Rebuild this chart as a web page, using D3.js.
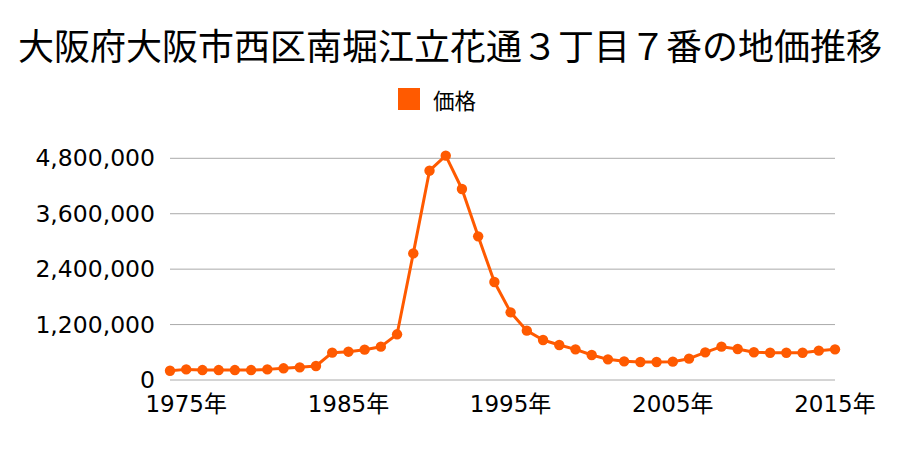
<!DOCTYPE html>
<html><head><meta charset="utf-8">
<script src="https://cdn.jsdelivr.net/npm/d3@7"></script>
<style>
body{margin:0;background:#fff;}
text{font-family:"DejaVu Sans","Noto Sans CJK JP",sans-serif;}
.cjk{font-family:"Noto Sans CJK JP",sans-serif;}
</style></head>
<body><svg id="c" width="900" height="450"></svg>
<script>
const title = "大阪府大阪市西区南堀江立花通３丁目７番の地価推移";
const seriesName = "価格";
const years = d3.range(1974, 2016);
const prices = [200000,230000,215000,215000,215000,215000,230000,253000,274000,303000,
  592000,613000,657000,722000,989000,2742000,4532000,4857000,4135000,3110000,
  2122000,1465000,1068000,866000,758000,664000,541000,447000,404000,390000,
  390000,397000,462000,599000,722000,671000,600000,590000,590000,590000,
  635000,664000];
const yTicks = [0,1200000,2400000,3600000,4800000];
const xTicks = [1975,1985,1995,2005,2015];
const color = "#ff5a00";

const svg = d3.select("#c");
const x = d3.scaleLinear().domain([1974,2015]).range([170,835]);
const y = d3.scaleLinear().domain([0,4800000]).range([380,158.3]);

svg.append("text").attr("class","cjk").attr("x",450).attr("y",44).attr("text-anchor","middle")
  .attr("dominant-baseline","central").attr("font-size",36).attr("fill","#000").text(title);

svg.append("rect").attr("x",398).attr("y",88).attr("width",22).attr("height",22).attr("fill",color);
svg.append("text").attr("class","cjk").attr("x",433).attr("y",99).attr("dominant-baseline","central")
  .attr("font-size",21.5).attr("fill","#000").text(seriesName);

const gy = svg.append("g");
gy.selectAll("line").data(yTicks).join("line")
  .attr("x1",170).attr("x2",835).attr("y1",d=>y(d)).attr("y2",d=>y(d))
  .attr("stroke","#aaaaaa").attr("stroke-width",1);
gy.selectAll("text").data(yTicks).join("text")
  .attr("x",155).attr("y",d=>y(d)).attr("text-anchor","end").attr("dominant-baseline","central")
  .attr("font-size",23.5).attr("fill","#000").text(d=>d3.format(",")(d));

svg.append("g").selectAll("text").data(xTicks).join("text")
  .attr("x",d=>x(d)).attr("y",404).attr("text-anchor","middle").attr("dominant-baseline","central")
  .attr("font-size",23).attr("fill","#000").text(d=>d+"年");

const data = years.map((yr,i)=>({yr, v:prices[i]}));
svg.append("path").datum(data)
  .attr("d", d3.line().x(d=>x(d.yr)).y(d=>y(d.v)))
  .attr("fill","none").attr("stroke",color).attr("stroke-width",3).attr("stroke-linejoin","round");
svg.append("g").selectAll("circle").data(data).join("circle")
  .attr("cx",d=>x(d.yr)).attr("cy",d=>y(d.v)).attr("r",5.2).attr("fill",color);
</script></body></html>
